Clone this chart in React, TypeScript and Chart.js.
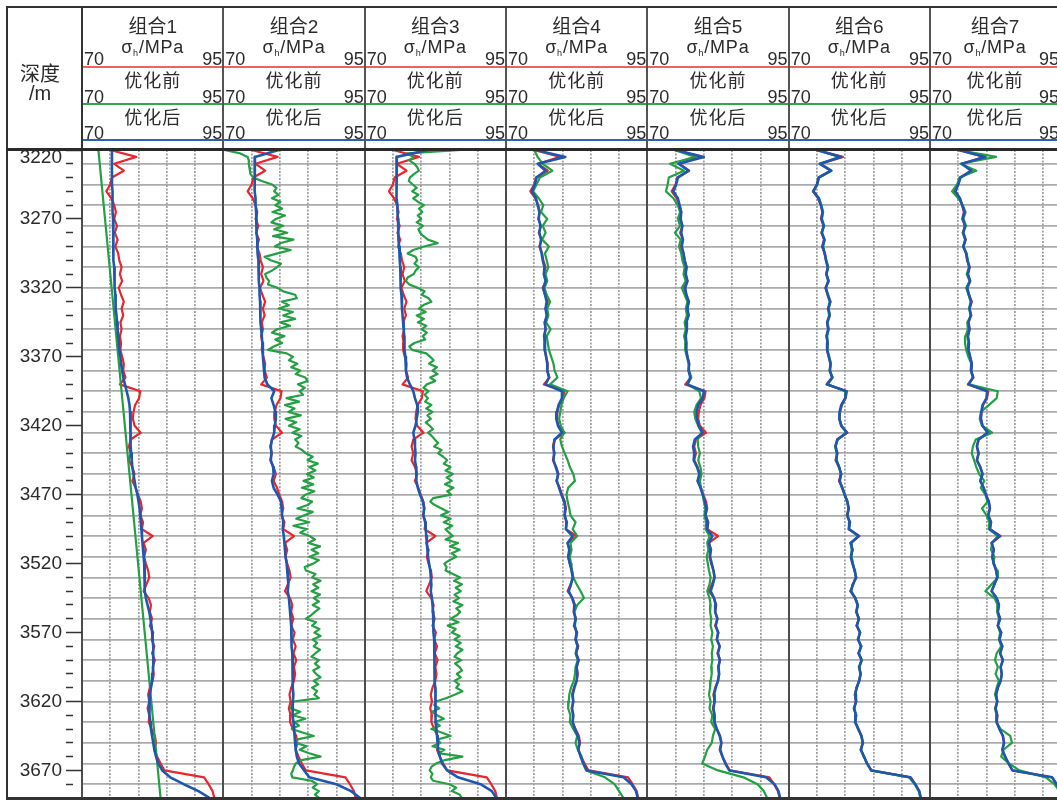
import React, { useEffect, useRef } from 'react';
import { Chart, registerables } from 'chart.js';

Chart.register(...registerables);

// ---------------- data ----------------
const TRACK_NAMES = ['组合1', '组合2', '组合3', '组合4', '组合5', '组合6', '组合7'];
const TRACK_WEIGHTS = [1, 1, 1, 1, 1, 1, 0.92];
const X_MIN = 70;
const X_MAX = 95;
const X_TICKS = [70, 75, 80, 85, 90, 95];
const DEPTH_MIN = 3220;
const DEPTH_MAX = 3690;
const DEPTH_LABELS = [3220, 3270, 3320, 3370, 3420, 3470, 3520, 3570, 3620, 3670];
const GRID_DEPTHS = [3230, 3245, 3260, 3275, 3290, 3305, 3320, 3335, 3350, 3365, 3380, 3395, 3410, 3425, 3440,
  3455, 3470, 3485, 3500, 3515, 3530, 3545, 3560, 3575, 3590, 3605, 3620, 3635, 3650, 3665, 3680];

const DEPTH = [
  3220, 3225, 3230, 3235, 3240, 3245, 3250, 3255, 3260, 3265,
  3270, 3275, 3280, 3285, 3290, 3295, 3300, 3305, 3310, 3315,
  3320, 3325, 3330, 3335, 3340, 3345, 3350, 3355, 3360, 3365,
  3370, 3375, 3380, 3385, 3390, 3395, 3400, 3405, 3410, 3415,
  3420, 3425, 3430, 3435, 3440, 3445, 3450, 3455, 3460, 3465,
  3470, 3475, 3480, 3485, 3490, 3495, 3500, 3505, 3510, 3515,
  3520, 3525, 3530, 3535, 3540, 3545, 3550, 3555, 3560, 3565,
  3570, 3575, 3580, 3585, 3590, 3595, 3600, 3605, 3610, 3615,
  3620, 3625, 3630, 3635, 3640, 3645, 3650, 3655, 3660, 3665,
  3670, 3675, 3680, 3685, 3690,
];

const DEPTH_FINE = [
  3220, 3222.5, 3225, 3227.5, 3230, 3232.5, 3235, 3237.5,
  3240, 3242.5, 3245, 3247.5, 3250, 3252.5, 3255, 3257.5,
  3260, 3262.5, 3265, 3267.5, 3270, 3272.5, 3275, 3277.5,
  3280, 3282.5, 3285, 3287.5, 3290, 3292.5, 3295, 3297.5,
  3300, 3302.5, 3305, 3307.5, 3310, 3312.5, 3315, 3317.5,
  3320, 3322.5, 3325, 3327.5, 3330, 3332.5, 3335, 3337.5,
  3340, 3342.5, 3345, 3347.5, 3350, 3352.5, 3355, 3357.5,
  3360, 3362.5, 3365, 3367.5, 3370, 3372.5, 3375, 3377.5,
  3380, 3382.5, 3385, 3387.5, 3390, 3392.5, 3395, 3397.5,
  3400, 3402.5, 3405, 3407.5, 3410, 3412.5, 3415, 3417.5,
  3420, 3422.5, 3425, 3427.5, 3430, 3432.5, 3435, 3437.5,
  3440, 3442.5, 3445, 3447.5, 3450, 3452.5, 3455, 3457.5,
  3460, 3462.5, 3465, 3467.5, 3470, 3472.5, 3475, 3477.5,
  3480, 3482.5, 3485, 3487.5, 3490, 3492.5, 3495, 3497.5,
  3500, 3502.5, 3505, 3507.5, 3510, 3512.5, 3515, 3517.5,
  3520, 3522.5, 3525, 3527.5, 3530, 3532.5, 3535, 3537.5,
  3540, 3542.5, 3545, 3547.5, 3550, 3552.5, 3555, 3557.5,
  3560, 3562.5, 3565, 3567.5, 3570, 3572.5, 3575, 3577.5,
  3580, 3582.5, 3585, 3587.5, 3590, 3592.5, 3595, 3597.5,
  3600, 3602.5, 3605, 3607.5, 3610, 3612.5, 3615, 3617.5,
  3620, 3622.5, 3625, 3627.5, 3630, 3632.5, 3635, 3637.5,
  3640, 3642.5, 3645, 3647.5, 3650, 3652.5, 3655, 3657.5,
  3660, 3662.5, 3665, 3667.5, 3670, 3672.5, 3675, 3677.5,
  3680, 3682.5, 3685, 3687.5, 3690,
];

const DEPTH_ENDS = [3220, 3690];

// measured σh (red, same in every track)
const RED = [
  75.0, 79.6, 75.7, 77.4, 75.3, 75.0, 74.3, 75.2, 75.7, 76.0,
  75.7, 76.2, 75.8, 76.3, 75.9, 76.4, 76.6, 77.0, 76.7, 77.1,
  76.5, 76.9, 77.4, 77.0, 77.3, 76.8, 77.0, 76.7, 76.9, 76.8,
  77.1, 77.4, 77.3, 77.7, 76.7, 80.3, 80.1, 79.4, 79.1, 79.0,
  79.3, 80.4, 78.6, 78.3, 78.6, 78.3, 78.9, 79.3, 78.9, 79.5,
  79.9, 80.4, 80.6, 80.3, 80.8, 80.6, 82.5, 80.9, 81.3, 81.0,
  81.3, 81.7, 81.9, 81.4, 80.9, 81.8, 82.2, 82.0, 82.4, 82.0,
  82.6, 82.3, 82.8, 82.4, 82.9, 82.5, 82.7, 82.5, 82.0, 81.7,
  81.9, 81.6, 81.9, 81.8, 82.3, 82.9, 83.1, 82.8, 83.3, 83.9,
  84.6, 91.6, 92.4, 93.1, 93.4,
];

// 优化前 (green)
const GREEN_1 = [72.9, 83.9];

const GREEN_2 = [
  70.2, 73.0, 74.3, 74.5, 74.5, 74.6, 74.7, 74.8,
  75.3, 76.8, 78.6, 79.4, 79.0, 79.8, 78.6, 80.1,
  79.2, 80.4, 78.7, 80.9, 79.3, 78.5, 80.6, 79.0,
  81.3, 78.8, 82.4, 80.2, 79.1, 81.9, 79.6, 77.3,
  78.4, 80.2, 79.5, 78.6, 77.4, 77.6, 78.1, 77.9,
  79.6, 80.6, 82.7, 83.0, 80.4, 81.6, 79.8, 82.3,
  80.6, 82.7, 80.1, 81.8, 79.5, 78.6, 80.8, 79.2,
  80.4, 78.9, 77.9, 81.2, 82.3, 81.6, 83.1, 82.0,
  83.6, 82.8, 84.5, 84.9, 83.2, 84.4, 83.5, 84.1,
  81.2, 83.4, 80.9, 82.6, 81.5, 83.7, 81.0, 82.9,
  81.6, 83.5, 82.2, 83.8, 82.7, 83.3, 82.8, 83.9,
  84.6, 85.8, 84.9, 86.7, 85.2, 86.3, 84.8, 86.0,
  84.2, 85.9, 83.9, 86.1, 84.5, 83.8, 85.7, 84.9,
  83.1, 85.8, 84.3, 82.9, 85.2, 82.4, 84.7, 83.6,
  85.3, 86.2, 85.0, 87.1, 85.6, 86.8, 85.2, 86.9,
  85.9, 84.4, 84.6, 86.3, 85.7, 87.2, 85.9, 86.8,
  85.6, 87.1, 86.0, 86.9, 85.8, 87.0, 86.2, 85.5,
  84.6, 86.4, 85.7, 87.0, 86.1, 87.2, 85.8, 86.6,
  86.0, 87.1, 86.3, 85.6, 86.9, 86.2, 87.0, 85.9,
  86.4, 87.2, 86.0, 86.8, 85.7, 86.6, 86.1, 86.9,
  82.4, 82.2, 81.9, 83.6, 82.3, 84.5, 82.6, 83.4,
  82.1, 84.0, 86.0, 83.1, 82.9, 84.7, 83.5, 85.2,
  87.2, 83.8, 82.8, 82.5, 82.3, 82.0, 82.2, 85.6,
  86.6, 85.8, 86.9, 86.2, 87.0,
];

const GREEN_3 = [
  87.0, 77.5, 78.6, 77.9, 78.8, 79.3, 79.6, 78.7,
  78.0, 77.8, 78.5, 79.2, 78.4, 79.5, 78.6, 79.4,
  80.5, 79.6, 80.2, 79.4, 80.0, 79.2, 80.3, 79.5,
  79.8, 80.4, 81.2, 82.9, 80.5, 78.6, 77.6, 79.0,
  79.3, 78.8, 79.6, 79.0, 78.7, 77.6, 77.3, 77.9,
  79.4, 80.6, 80.1, 81.3, 81.8, 80.4, 79.6, 80.8,
  79.2, 80.5, 79.4, 80.9, 80.1, 81.0, 80.3, 80.7,
  78.8, 77.9, 78.4, 80.9, 81.6, 82.2, 81.4, 82.8,
  82.0, 82.9, 81.6, 82.5, 81.0, 80.4, 81.3, 80.6,
  81.2, 80.7, 81.8, 80.9, 82.0, 81.1, 81.7, 80.8,
  81.5, 82.1, 81.2, 81.9, 82.4, 83.0, 82.3, 83.6,
  83.0, 83.9, 84.6, 84.0, 85.2, 84.3, 85.6, 84.5,
  85.4, 84.2, 85.7, 84.6, 85.3, 82.1, 81.6, 82.4,
  83.6, 84.8, 83.5, 85.2, 84.0, 85.5, 84.3, 84.9,
  85.6, 84.3, 86.5, 85.1, 86.8, 85.4, 86.2, 85.0,
  84.1, 84.5, 84.3, 85.6, 86.9, 85.8, 87.2, 86.1,
  87.0, 85.9, 86.7, 85.7, 87.3, 86.2, 86.9, 86.3,
  85.2, 86.6, 84.7, 86.1, 85.4, 86.8, 85.9, 87.0,
  86.1, 87.3, 86.4, 85.9, 87.1, 86.0, 86.8, 87.2,
  86.3, 87.0, 85.9, 86.7, 86.2, 87.3, 86.0, 84.5,
  82.6, 82.3, 83.2, 81.9, 82.8, 84.0, 82.4, 83.3,
  81.8, 83.6, 85.2, 82.9, 83.4, 82.0, 84.1, 83.0,
  87.3, 84.2, 82.6, 81.8, 81.5, 82.0, 81.7, 82.1,
  85.0, 86.2, 85.4, 86.8, 87.2,
];

const GREEN_4 = [
  75.0, 75.6, 76.5, 78.2, 76.0, 75.4, 74.8, 75.8, 76.6, 76.2,
  77.3, 76.5, 77.0, 76.4, 77.6, 76.9, 77.2, 77.5, 77.0, 77.3,
  76.8, 77.2, 77.8, 77.3, 77.5, 77.1, 77.9, 77.2, 77.4, 77.6,
  78.0, 78.4, 78.6, 79.1, 77.8, 80.9, 80.2, 79.8, 79.6, 79.4,
  79.7, 80.3, 79.6, 79.9, 80.4, 80.9, 81.3, 81.9, 82.2, 81.0,
  80.7, 80.9, 81.2, 81.4, 82.3, 81.8, 82.6, 81.4, 81.6, 81.3,
  81.5, 81.6, 81.9, 82.5, 83.2, 83.8, 82.6, 82.1, 82.3, 82.2,
  82.5, 82.4, 82.6, 82.3, 82.7, 82.3, 82.2, 82.0, 81.5, 81.2,
  81.1, 81.0, 81.4, 81.3, 81.9, 82.6, 82.3, 82.7, 83.4, 83.6,
  84.2, 87.5, 89.2, 90.0, 90.8,
];

const GREEN_5 = [
  74.8, 78.5, 74.0, 76.5, 73.8, 73.6, 73.3, 74.6, 75.4, 75.8,
  75.4, 75.8, 74.9, 75.9, 75.6, 76.0, 76.2, 76.6, 76.4, 76.8,
  76.1, 76.6, 77.1, 76.8, 77.0, 76.6, 76.8, 76.5, 76.8, 76.7,
  77.0, 77.3, 77.4, 77.8, 77.1, 79.2, 79.5, 78.7, 78.3, 78.5,
  79.0, 79.6, 78.9, 79.0, 79.3, 79.0, 79.4, 79.6, 79.3, 79.5,
  79.8, 80.0, 80.3, 80.1, 80.4, 80.3, 81.0, 80.6, 80.8, 80.5,
  80.7, 80.9, 81.2, 81.0, 80.6, 81.0, 81.2, 81.1, 81.3, 81.2,
  81.5, 81.3, 81.6, 81.4, 81.5, 81.3, 81.4, 81.2, 81.1, 80.9,
  81.2, 81.0, 81.5, 81.3, 82.0, 81.6, 81.4, 80.6, 80.2, 79.7,
  82.5, 87.0, 89.5, 90.6, 91.2,
];

const GREEN_6 = [
  74.9, 79.0, 75.6, 77.6, 75.4, 75.1, 74.3, 75.4, 75.8, 76.1,
  75.9, 76.3, 75.8, 76.4, 76.1, 76.3, 76.7, 77.0, 76.6, 77.1,
  76.5, 77.0, 77.4, 77.1, 77.3, 76.9, 77.1, 76.8, 76.8, 76.9,
  77.2, 77.5, 77.2, 77.8, 76.9, 80.1, 80.0, 79.4, 79.1, 78.9,
  79.4, 80.2, 78.7, 78.2, 78.5, 78.5, 79.0, 79.2, 79.1, 79.4,
  80.0, 80.3, 80.7, 80.3, 80.9, 80.6, 82.3, 81.1, 81.2, 81.1,
  81.4, 81.6, 82.0, 81.3, 81.1, 81.7, 82.3, 81.9, 82.5, 82.0,
  82.7, 82.2, 82.9, 82.3, 83.0, 82.4, 82.8, 82.4, 82.1, 81.7,
  82.0, 81.5, 82.0, 81.7, 82.4, 82.8, 83.2, 82.7, 83.4, 83.8,
  84.7, 91.3, 92.3, 93.0, 93.3,
];

const GREEN_7 = [
  75.0, 81.7, 75.4, 78.2, 75.2, 74.8, 73.9, 75.0, 75.8, 76.3,
  75.9, 76.4, 75.8, 76.2, 75.9, 76.5, 76.7, 76.9, 76.5, 77.0,
  76.4, 76.8, 77.2, 76.9, 77.3, 76.6, 76.7, 76.3, 76.2, 76.4,
  76.8, 77.3, 77.2, 77.6, 76.9, 82.0, 81.8, 80.4, 79.0, 78.8,
  79.2, 81.0, 78.1, 77.6, 77.4, 77.8, 78.2, 78.7, 79.6, 79.0,
  79.8, 80.2, 79.2, 80.0, 80.5, 80.4, 82.0, 81.0, 80.8, 81.4,
  81.2, 81.9, 82.0, 80.9, 79.8, 81.4, 82.0, 81.9, 82.2, 82.0,
  82.4, 82.2, 82.6, 81.8, 81.5, 82.0, 81.6, 82.2, 81.8, 81.5,
  81.9, 81.5, 81.8, 81.7, 82.5, 84.2, 84.5, 83.0, 82.6, 84.0,
  85.8, 90.5, 92.0, 92.9, 93.3,
];

// 优化后 (blue)
const BLUE_1 = [
  75.3, 75.3, 75.3, 75.3, 75.3, 75.3, 75.4, 75.4, 75.4, 75.4,
  75.5, 75.5, 75.5, 75.5, 75.6, 75.6, 75.6, 75.7, 75.7, 75.8,
  75.8, 75.9, 75.9, 76.0, 76.1, 76.2, 76.3, 76.4, 76.5, 76.6,
  76.8, 76.9, 77.1, 77.3, 77.6, 77.9, 78.2, 78.4, 78.5, 78.6,
  78.6, 78.6, 78.6, 78.6, 78.7, 78.8, 78.9, 79.1, 79.3, 79.5,
  79.8, 80.0, 80.2, 80.3, 80.4, 80.5, 80.6, 80.7, 80.8, 80.9,
  81.0, 81.1, 81.1, 81.1, 81.1, 81.3, 81.6, 81.9, 82.1, 82.3,
  82.4, 82.5, 82.6, 82.6, 82.6, 82.6, 82.5, 82.4, 82.2, 82.0,
  81.9, 81.9, 82.0, 82.1, 82.2, 82.4, 82.6, 82.8, 83.1, 83.5,
  84.2, 85.6, 88.0, 90.6, 92.6,
];

const BLUE_2 = [
  79.8, 75.6, 75.5, 75.5, 75.5, 75.6, 75.6, 75.7, 75.7, 75.8,
  75.8, 75.9, 75.9, 76.0, 76.0, 76.1, 76.2, 76.2, 76.3, 76.3,
  76.4, 76.4, 76.5, 76.5, 76.6, 76.6, 76.7, 76.8, 76.9, 77.0,
  77.0, 77.1, 77.2, 77.3, 77.8, 79.0, 78.5, 78.9, 79.2, 79.3,
  79.1, 79.0, 78.6, 78.4, 78.5, 78.4, 78.8, 78.9, 78.6, 78.9,
  79.6, 80.2, 80.3, 80.4, 80.6, 80.5, 80.7, 80.8, 80.9, 81.0,
  81.2, 81.3, 81.4, 81.5, 81.4, 81.6, 81.7, 81.8, 81.9, 82.0,
  82.0, 82.1, 82.1, 82.2, 82.2, 82.3, 82.3, 82.3, 82.3, 82.4,
  82.3, 82.2, 82.3, 82.4, 82.5, 82.6, 82.7, 82.8, 83.0, 83.4,
  84.3, 85.2, 90.0, 92.6, 94.2,
];

const BLUE_3 = [
  81.2, 75.7, 75.6, 75.6, 75.6, 75.6, 75.7, 75.7, 75.8, 75.8,
  75.9, 75.9, 76.0, 76.0, 76.1, 76.2, 76.2, 76.3, 76.3, 76.4,
  76.4, 76.5, 76.6, 76.6, 76.7, 76.8, 76.9, 77.0, 77.0, 77.1,
  77.2, 77.3, 77.3, 77.5, 78.0, 78.6, 78.9, 79.3, 79.4, 79.2,
  79.0, 78.6, 78.8, 78.9, 79.0, 78.9, 79.1, 79.2, 79.1, 79.4,
  79.8, 80.3, 80.5, 80.4, 80.7, 80.8, 80.9, 81.0, 81.1, 81.2,
  81.4, 81.6, 81.7, 81.8, 81.7, 81.9, 82.0, 82.1, 82.1, 82.2,
  82.2, 82.3, 82.3, 82.3, 82.4, 82.4, 82.4, 82.4, 82.5, 82.5,
  82.5, 82.5, 82.6, 82.6, 82.7, 82.8, 82.9, 83.0, 83.3, 83.7,
  84.6, 86.5, 90.5, 92.5, 93.3,
];

const BLUE_4 = [
  75.2, 80.5, 75.6, 77.0, 75.4, 75.1, 74.6, 75.3, 75.6, 75.9,
  75.8, 76.1, 75.9, 76.2, 76.0, 76.3, 76.5, 76.8, 76.7, 77.0,
  76.6, 76.9, 77.2, 77.0, 77.2, 76.9, 77.0, 76.8, 76.9, 76.9,
  77.1, 77.3, 77.3, 77.6, 77.0, 79.9, 79.9, 79.3, 79.0, 78.9,
  79.2, 79.9, 78.6, 78.4, 78.5, 78.4, 78.8, 79.2, 79.0, 79.4,
  79.8, 80.3, 80.5, 80.4, 80.7, 80.6, 81.8, 80.9, 81.2, 81.0,
  81.3, 81.6, 81.8, 81.5, 81.1, 81.7, 82.1, 82.0, 82.3, 82.1,
  82.5, 82.3, 82.7, 82.4, 82.8, 82.5, 82.6, 82.5, 82.1, 81.8,
  81.9, 81.7, 81.9, 81.8, 82.2, 82.7, 83.0, 82.8, 83.2, 83.7,
  84.3, 90.8, 92.2, 93.0, 93.3,
];

const BLUE_5 = [
  75.0, 80.0, 75.5, 77.3, 75.4, 75.1, 74.6, 75.4, 75.7, 76.0,
  75.9, 76.2, 76.0, 76.3, 76.1, 76.4, 76.6, 76.9, 76.8, 77.1,
  76.7, 76.9, 77.3, 77.1, 77.3, 76.9, 77.0, 76.8, 76.9, 76.9,
  77.1, 77.4, 77.3, 77.6, 77.1, 80.0, 79.8, 79.0, 78.7, 78.8,
  79.1, 79.8, 78.4, 78.1, 78.3, 78.2, 78.8, 79.2, 78.9, 79.4,
  79.8, 80.2, 80.4, 80.3, 80.7, 80.6, 81.5, 80.9, 81.2, 81.1,
  81.4, 81.7, 81.9, 81.6, 81.2, 81.8, 82.1, 82.0, 82.4, 82.1,
  82.5, 82.3, 82.8, 82.5, 82.8, 82.6, 82.7, 82.5, 82.1, 81.8,
  81.9, 81.7, 81.9, 81.9, 82.3, 82.8, 83.1, 82.9, 83.3, 83.8,
  84.5, 91.0, 92.5, 93.2, 93.5,
];

const BLUE_6 = [
  75.0, 79.3, 75.5, 77.5, 75.3, 75.0, 74.4, 75.3, 75.7, 76.0,
  75.8, 76.2, 75.9, 76.3, 76.0, 76.4, 76.6, 76.9, 76.7, 77.0,
  76.6, 76.9, 77.3, 77.0, 77.2, 76.8, 77.0, 76.7, 76.9, 76.8,
  77.1, 77.4, 77.3, 77.7, 76.8, 80.2, 80.0, 79.3, 79.0, 79.0,
  79.3, 80.3, 78.6, 78.3, 78.6, 78.4, 78.9, 79.3, 79.0, 79.5,
  79.9, 80.4, 80.6, 80.4, 80.8, 80.7, 82.4, 81.0, 81.3, 81.0,
  81.3, 81.7, 81.9, 81.4, 81.0, 81.8, 82.2, 82.0, 82.4, 82.1,
  82.6, 82.3, 82.8, 82.4, 82.9, 82.5, 82.7, 82.5, 82.0, 81.8,
  81.9, 81.6, 81.9, 81.8, 82.3, 82.9, 83.1, 82.8, 83.3, 83.9,
  84.6, 91.5, 92.4, 93.1, 93.4,
];

const BLUE_7 = [
  75.1, 79.8, 75.6, 77.3, 75.4, 75.0, 74.5, 75.3, 75.7, 76.1,
  75.8, 76.2, 75.9, 76.3, 75.9, 76.4, 76.6, 77.0, 76.7, 77.1,
  76.6, 76.9, 77.3, 77.0, 77.2, 76.8, 77.0, 76.7, 76.9, 76.8,
  77.1, 77.4, 77.3, 77.6, 76.8, 80.1, 80.0, 79.3, 79.1, 79.0,
  79.3, 80.2, 78.6, 78.3, 78.6, 78.3, 78.9, 79.3, 78.9, 79.5,
  79.9, 80.4, 80.6, 80.3, 80.8, 80.6, 82.3, 80.9, 81.3, 81.0,
  81.3, 81.7, 81.9, 81.4, 80.9, 81.8, 82.2, 82.0, 82.4, 82.0,
  82.6, 82.3, 82.8, 82.4, 82.9, 82.5, 82.7, 82.5, 82.0, 81.7,
  81.9, 81.6, 81.9, 81.8, 82.3, 82.9, 83.1, 82.8, 83.3, 83.9,
  84.6, 91.6, 92.4, 93.1, 93.4,
];

// ---------------- layout / style ----------------
const VIEW_W = 1057;
const VIEW_H = 800;
const CANVAS_W = 1060;
const CANVAS_H = 830;
const PLOT_LEFT = 82;
const PLOT_TOP = 150;
const PLOT_BOTTOM = 798;
const TOTAL_WEIGHT = TRACK_WEIGHTS.reduce((a, b) => a + b, 0);
const UNIT_W = (CANVAS_W - PLOT_LEFT) / TOTAL_WEIGHT;

const C_RED = '#e8262b';
const C_GREEN = '#22a042';
const C_BLUE = '#1f57b0';
const FONT = '"Liberation Sans", Arial, "Noto Sans CJK SC", sans-serif';
const TEXT_COLOR = '#2b2b2b';

const GREENS = [
  { depth: DEPTH_ENDS, values: GREEN_1 },
  { depth: DEPTH_FINE, values: GREEN_2 },
  { depth: DEPTH_FINE, values: GREEN_3 },
  { depth: DEPTH, values: GREEN_4 },
  { depth: DEPTH, values: GREEN_5 },
  { depth: DEPTH, values: GREEN_6 },
  { depth: DEPTH, values: GREEN_7 },
];
const BLUES = [BLUE_1, BLUE_2, BLUE_3, BLUE_4, BLUE_5, BLUE_6, BLUE_7];

function pts(depth: number[], values: number[]) {
  return depth.map((d, k) => ({ x: values[k], y: d }));
}

function trackLeft(i: number) {
  let s = 0;
  for (let k = 0; k < i; k++) s += TRACK_WEIGHTS[k];
  return PLOT_LEFT + s * UNIT_W;
}

function buildConfig(): any {
  const datasets: any[] = [];
  TRACK_NAMES.forEach((name, i) => {
    const xAxisID = 'x' + (i + 1);
    datasets.push({
      label: name + ' 优化后', data: pts(DEPTH, BLUES[i]), xAxisID, yAxisID: 'y',
      borderColor: C_BLUE, borderWidth: 2.6, order: 1,
    });
    datasets.push({
      label: name + ' 优化前', data: pts(GREENS[i].depth, GREENS[i].values), xAxisID, yAxisID: 'y',
      borderColor: C_GREEN, borderWidth: 2.2, order: 2,
    });
    datasets.push({
      label: name + ' σh', data: pts(DEPTH, RED), xAxisID, yAxisID: 'y',
      borderColor: C_RED, borderWidth: 2.2, order: 3,
    });
  });

  const n = TRACK_NAMES.length;
  const scales: any = {};
  scales.y = {
    type: 'linear', axis: 'y', position: 'left', weight: 0,
    min: DEPTH_MIN, max: DEPTH_MAX, reverse: true,
    afterBuildTicks: (s: any) => { s.ticks = GRID_DEPTHS.map((v) => ({ value: v })); },
    afterFit: (s: any) => { s.width = 0; },
    ticks: { display: false },
    grid: { drawTicks: false, color: '#ababab', lineWidth: 1.7 },
    border: { display: false },
  };
  TRACK_NAMES.forEach((_, i) => {
    scales['x' + (i + 1)] = {
      type: 'linear', axis: 'x', position: 'top',
      // higher weight is placed first in the stack -> keeps track 1 on the left
      weight: n - i,
      stack: 'tracks', stackWeight: TRACK_WEIGHTS[i],
      min: X_MIN, max: X_MIN + (X_MAX - X_MIN) * TRACK_WEIGHTS[i],
      afterBuildTicks: (s: any) => { s.ticks = X_TICKS.map((v) => ({ value: v })); },
      afterFit: (s: any) => { s.height = 0; },
      ticks: { display: false },
      grid: {
        drawTicks: false, lineWidth: 1.7,
        color: (ctx: any) => (ctx.tick && (ctx.tick.value === X_MIN || ctx.tick.value === X_MAX)) ? 'rgba(0,0,0,0)' : '#9d9d9d',
      },
      border: { display: false, dash: [2, 1.5] },
    };
  });
  scales.xSep = {
    type: 'linear', axis: 'x', position: 'top', weight: 0,
    min: 0, max: TOTAL_WEIGHT,
    afterBuildTicks: (s: any) => { s.ticks = TRACK_NAMES.map((_, i) => ({ value: i })); },
    afterFit: (s: any) => { s.height = 0; },
    ticks: { display: false },
    grid: { drawTicks: false, color: '#4d4d4d', lineWidth: 2 },
    border: { display: false },
  };
  scales.yMajor = {
    type: 'linear', axis: 'y', position: 'left', weight: 1,
    min: DEPTH_MIN, max: DEPTH_MAX, reverse: true,
    afterBuildTicks: (s: any) => { s.ticks = DEPTH_LABELS.map((v) => ({ value: v })); },
    afterFit: (s: any) => { s.width = 9; },
    ticks: { display: false },
    grid: { drawOnChartArea: false, drawTicks: true, tickLength: 9, tickColor: '#333', tickWidth: 1.5 },
    border: { display: false },
  };
  scales.yDepth = {
    type: 'linear', axis: 'y', position: 'left', weight: 2,
    min: DEPTH_MIN, max: DEPTH_MAX, reverse: true,
    afterFit: (s: any) => { s.width = 65; },
    ticks: {
      stepSize: 10, autoSkip: false, maxTicksLimit: 1000, padding: 4, color: TEXT_COLOR,
      font: { family: '"Liberation Sans", Arial, sans-serif', size: 19, lineHeight: 0.85 },
      callback: (v: any) => {
        if (!DEPTH_LABELS.includes(v)) return '';
        return v === DEPTH_MIN ? ['', String(v)] : String(v);
      },
    },
    grid: { drawOnChartArea: false, drawTicks: true, tickLength: 7, tickColor: '#333', tickWidth: 1.5 },
    border: { display: false },
  };

  return {
    type: 'line',
    data: { datasets },
    options: {
      animation: false,
      responsive: false,
      devicePixelRatio: 1,
      indexAxis: 'y',
      events: [],
      layout: { padding: { left: 8, top: PLOT_TOP, right: 0, bottom: CANVAS_H - PLOT_BOTTOM } },
      plugins: { legend: { display: false }, tooltip: { enabled: false }, title: { display: false } },
      elements: {
        point: { radius: 0, hoverRadius: 0 },
        line: { tension: 0, fill: false, borderJoinStyle: 'round', borderCapStyle: 'round' },
      },
      scales,
    },
  };
}

// ---------------- header pieces ----------------
function Txt(props: any) {
  const { left, top, width, height, align = 'center', size = 17, children, spacing = 0 } = props;
  return (
    <div style={{
      position: 'absolute', left, top, width, height, lineHeight: height + 'px',
      textAlign: align, fontSize: size, fontFamily: FONT, color: TEXT_COLOR,
      whiteSpace: 'nowrap', letterSpacing: spacing,
    }}>{children}</div>
  );
}

function HLine(props: any) {
  const { left, top, width, height = 2, color } = props;
  return <div style={{ position: 'absolute', left, top, width, height, background: color }} />;
}

function NumRow(props: any) {
  const { top, width } = props;
  return (
    <>
      <Txt left={2} top={top} width={40} height={20} align="left" size={18}>{X_MIN}</Txt>
      <Txt left={width - 41} top={top} width={40} height={20} align="right" size={18}>{X_MAX}</Txt>
    </>
  );
}

function TrackHeader(props: any) {
  const { i, name } = props;
  const left = trackLeft(i);
  const w = TRACK_WEIGHTS[i] * UNIT_W;
  return (
    <div style={{ position: 'absolute', left, top: 0, width: w, height: PLOT_TOP }}>
      <Txt left={0} top={16} width={w} height={22} size={19}>{name}</Txt>
      <Txt left={0} top={36} width={w} height={22} size={18} spacing={0.8}>
        σ<sub style={{ fontSize: 9, verticalAlign: '-3px' }}>h</sub>/MPa
      </Txt>
      <NumRow top={49} width={w} />
      <HLine left={0} top={65.5} width={w} color="#f06262" />
      <Txt left={0} top={70} width={w} height={22} size={18} spacing={1}>优化前</Txt>
      <NumRow top={87} width={w} />
      <HLine left={0} top={103} width={w} color="#2fa84d" />
      <Txt left={0} top={107} width={w} height={22} size={18} spacing={1}>优化后</Txt>
      <NumRow top={123} width={w} />
      <HLine left={0} top={139} width={w} color="#2b62b4" />
      <div style={{ position: 'absolute', left: -1, top: 7, width: 2, height: PLOT_TOP - 7, background: i === 0 ? '#333' : '#555' }} />
    </div>
  );
}

export default function App() {
  const ref = useRef<HTMLCanvasElement | null>(null);

  useEffect(() => {
    if (!ref.current) return;
    const chart = new Chart(ref.current, buildConfig());
    return () => chart.destroy();
  }, []);

  return (
    <div style={{
      position: 'absolute', left: 0, top: 0, width: VIEW_W, height: VIEW_H,
      overflow: 'hidden', background: '#fff',
    }}>
      <canvas ref={ref} width={CANVAS_W} height={CANVAS_H}
        style={{ position: 'absolute', left: 0, top: 0, width: CANVAS_W, height: CANVAS_H, display: 'block' }} />
      {/* depth column header */}
      <Txt left={8} top={62} width={64} height={24} size={20}>深度</Txt>
      <Txt left={8} top={82} width={64} height={22} size={20}>/m</Txt>
      {TRACK_NAMES.map((name, i) => <TrackHeader key={name} i={i} name={name} />)}
      {/* frame */}
      <HLine left={6} top={6} width={VIEW_W - 6} height={2} color="#333" />
      <div style={{ position: 'absolute', left: 6, top: 6, width: 2, height: VIEW_H - 6, background: '#333' }} />
      <HLine left={6} top={148} width={VIEW_W - 6} height={3} color="#2a2a2a" />
      <HLine left={6} top={797} width={VIEW_W - 6} height={3} color="#333" />
    </div>
  );
}
